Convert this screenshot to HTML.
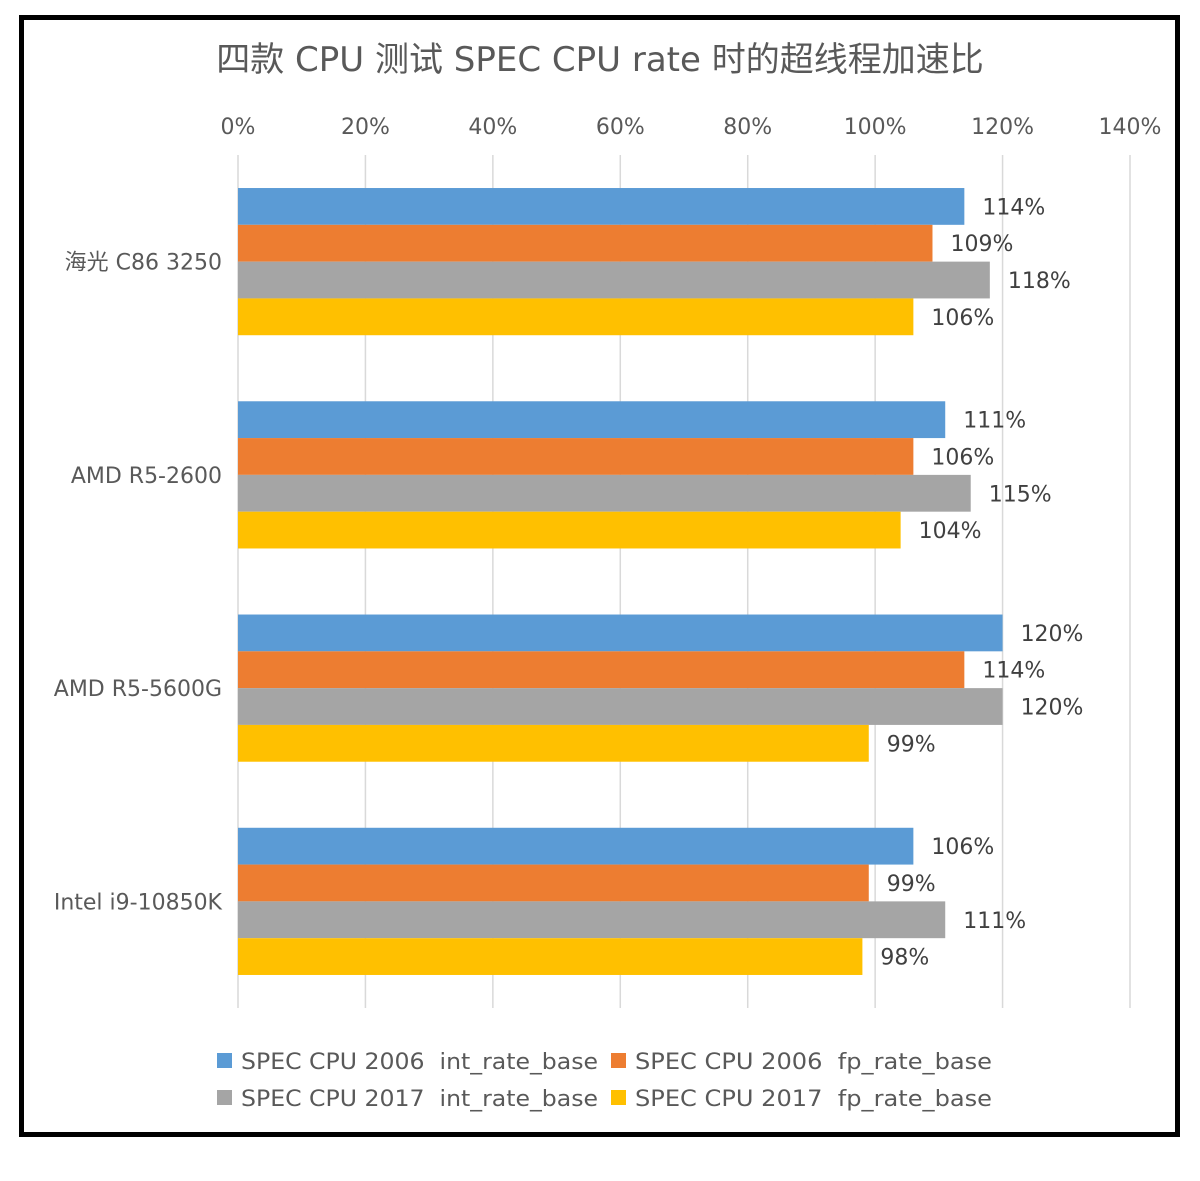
<!DOCTYPE html>
<html><head><meta charset="utf-8"><style>
body{margin:0;background:#fff}
svg text{font-family:"DejaVu Sans","Liberation Sans","Noto Sans CJK SC",sans-serif}
</style></head><body>
<svg id="chart" width="1200" height="1176" viewBox="0 0 1200 1176" xmlns="http://www.w3.org/2000/svg">
<rect x="21.5" y="17.5" width="1156" height="1117" fill="#fff" stroke="#000" stroke-width="5"/>
<text x="600" y="71" text-anchor="middle" font-size="34" fill="#595959" font-family="'DejaVu Sans','Noto Sans CJK SC',sans-serif">四款 CPU 测试 SPEC CPU rate 时的超线程加速比</text>
<g id="grid"></g><g id="bars"></g><g id="labels"></g>
<g id="legend"></g>
</svg>
<script>
const categories=["海光 C86 3250","AMD R5-2600","AMD R5-5600G","Intel i9-10850K"];
const seriesNames=["SPEC CPU 2006  int_rate_base","SPEC CPU 2006  fp_rate_base","SPEC CPU 2017  int_rate_base","SPEC CPU 2017  fp_rate_base"];
const int2006=[114,111,120,106];
const fp2006=[109,106,114,99];
const int2017=[118,115,120,111];
const fp2017=[106,104,99,98];
const ticks=[0,20,40,60,80,100,120,140];
const colors=["#5b9bd5","#ed7d31","#a5a5a5","#ffc000"];
const series=[int2006,fp2006,int2017,fp2017];
const NS="http://www.w3.org/2000/svg";
const x0=238,x1=1130,xmax=140;
const xs=v=>x0+(x1-x0)*v/xmax;
const top0=155,bot0=1008,bandH=(bot0-top0)/categories.length,barH=36.8;
const ys=i=>top0+bandH*(i+0.5);
function mk(t,p,a){const e=document.createElementNS(NS,t);for(const k in a)e.setAttribute(k,a[k]);p.appendChild(e);return e;}
const grid=document.getElementById('grid'),bars=document.getElementById('bars'),labels=document.getElementById('labels'),legend=document.getElementById('legend');
ticks.forEach(t=>{
 const l=mk('line',grid,{x1:xs(t),x2:xs(t),y1:top0,y2:bot0,stroke:'#d9d9d9','stroke-width':1.5});
 
 
 const tx=mk('text',grid,{x:xs(t),y:134,'text-anchor':'middle','font-size':22,fill:'#595959'});
 tx.textContent=t+'%';
 
 
});
categories.forEach((c,i)=>{
 const cy=ys(i);
 const ct=mk('text',labels,{x:222,y:cy+8,'text-anchor':'end','font-size':22,fill:'#595959'});
 ct.textContent=c;
 
 
 series.forEach((s,j)=>{
  const y=cy-2*barH+j*barH;
  const r=mk('rect',bars,{x:x0,y:y,width:xs(s[i])-x0,height:barH,fill:colors[j]});
  
  
  const vt=mk('text',labels,{x:xs(s[i])+18,y:y+barH/2+8,'font-size':22,fill:'#404040'});
  vt.textContent=s[i]+'%';
  
  
 });
});
seriesNames.forEach((n,j)=>{
 const col=j%2,row=Math.floor(j/2);
 const sx=col?611:217,sy=1053+row*37;
 const sq=mk('rect',legend,{x:sx,y:sy,width:15,height:15,fill:colors[j]});
 
 
 const lt=mk('text',legend,{x:sx+24,y:sy+16,'font-size':22,fill:'#595959',textLength:357,lengthAdjust:'spacingAndGlyphs','xml:space':'preserve'});
 lt.setAttribute('style','white-space:pre');
 lt.textContent=n;
 
 
});
</script>
</body></html>
